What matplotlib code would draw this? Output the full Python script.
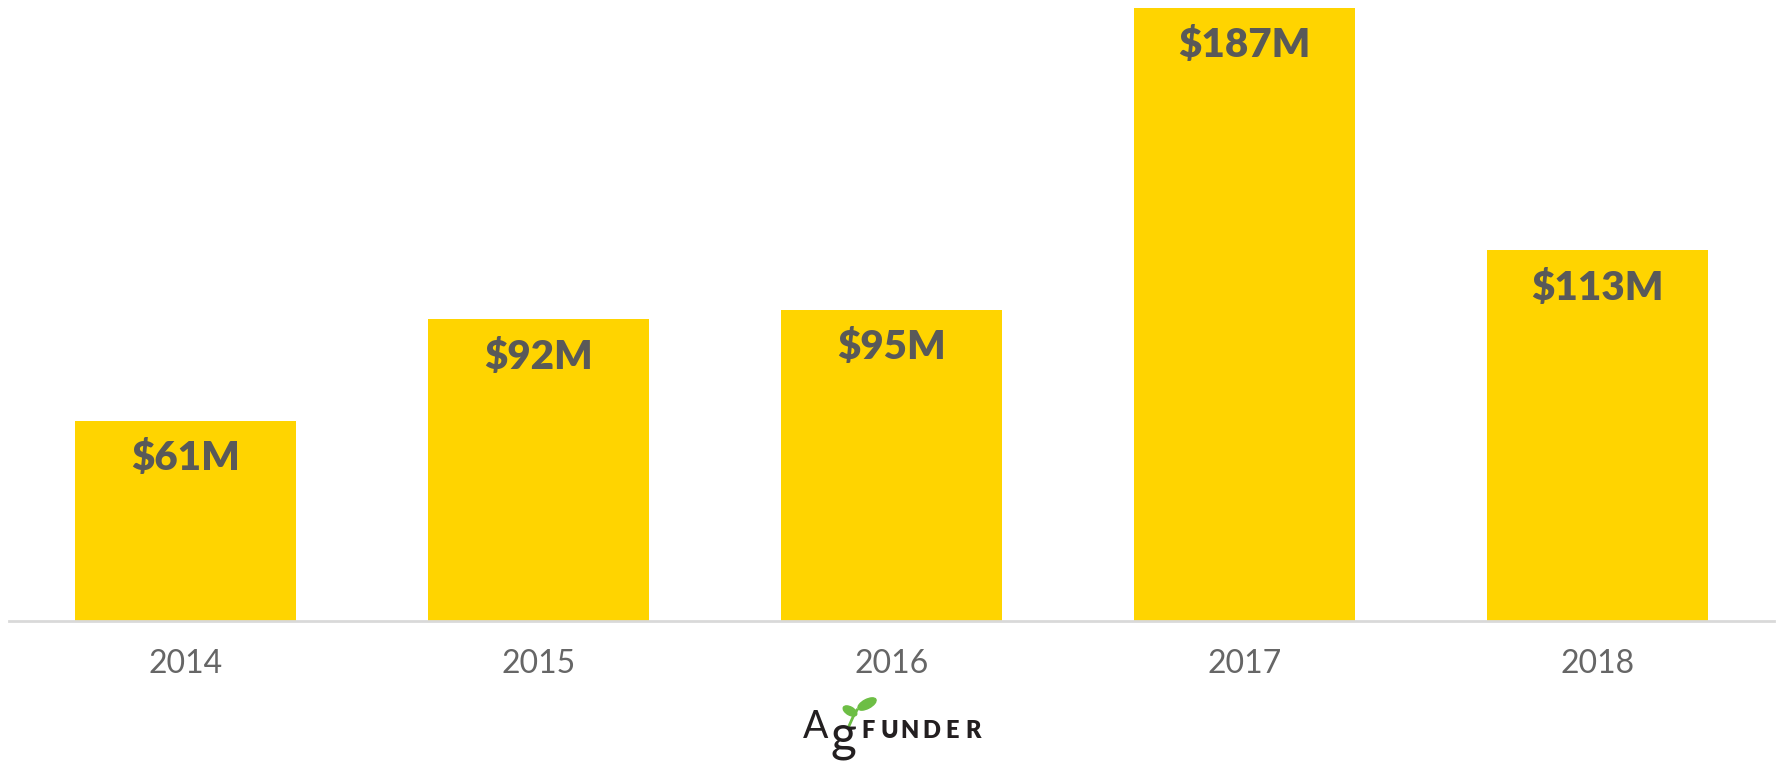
import matplotlib
matplotlib.use("Agg")
import matplotlib.pyplot as plt
from matplotlib.patches import Ellipse

years = ["2014", "2015", "2016", "2017", "2018"]
values = [61, 92, 95, 187, 113]
labels = ["$61M", "$92M", "$95M", "$187M", "$113M"]

W, H = 1779, 764
fig = plt.figure(figsize=(W/100, H/100), dpi=100)
ax = fig.add_axes([9/W, 1 - 621/H, (1774-9)/W, 621/H])
x = range(len(years))
ax.bar(x, values, width=0.627, color="#FFD400", zorder=2)
ax.set_xlim(-0.5, 4.5)
ax.set_ylim(0, 189.4)
for s in ["top", "right", "left"]:
    ax.spines[s].set_visible(False)
ax.spines["bottom"].set_color("#D9D9D9")
ax.spines["bottom"].set_linewidth(2)
ax.set_yticks([])
ax.set_xticks(list(x))
ax.set_xticklabels(years, fontsize=23, color="#666666", family="Lato", fontweight="normal")
ax.tick_params(axis="x", length=0, pad=20)

upp = 189.4 / 621  # data units per pixel
for i, (v, lab) in enumerate(zip(values, labels)):
    ax.text(i, v - 38 * upp, lab, ha="center", va="center",
            fontsize=29, fontweight="heavy", color="#595959", family="Lato")

# Logo
fig.text(803/W, 1 - 738/H, "A", fontsize=27, color="#231F20", family="Lato",
         ha="left", va="baseline")
fig.text(830/W, 1 - 751/H, "g", fontsize=36, color="#231F20", family="Lato",
         ha="left", va="baseline")
for k, ch in enumerate("FUNDER"):
    fig.text((868 + 21 * k)/W, 1 - 738/H, ch, fontsize=17, fontweight="heavy",
             color="#231F20", family="Lato", ha="center", va="baseline")
lax = fig.add_axes([0, 0, 1, 1], facecolor="none")
lax.set_xlim(0, W)
lax.set_ylim(H, 0)
lax.axis("off")
lax.add_patch(Ellipse((850, 711), 15, 8, angle=30, color="#6DBE45"))
lax.add_patch(Ellipse((867, 704), 20, 9, angle=-28, color="#6DBE45"))
lax.plot([849, 853, 857], [726, 717, 710], color="#6DBE45", lw=2)

fig.savefig("out.png", dpi=100)
